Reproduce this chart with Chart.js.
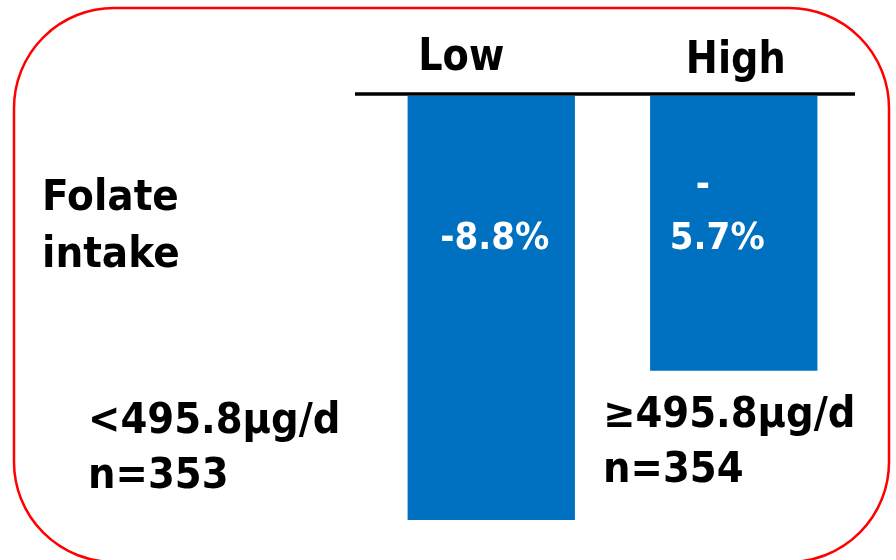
<!DOCTYPE html>
<html>
<head>
<meta charset="utf-8">
<script src="https://cdn.jsdelivr.net/npm/chart.js@4/dist/chart.umd.min.js"></script>
<style>
  html, body { margin: 0; padding: 0; background: #ffffff; }
  #wrap { width: 896px; height: 560px; position: relative; }
</style>
</head>
<body>
<div id="wrap"><canvas id="c" width="896" height="560"></canvas></div>
<script>
// Folate intake groups and the percentage change in each
const categories = ['Low', 'High'];
const values = [-8.8, -5.7];
const groupLabels = [
  ['<495.8µg/d', 'n=353'],
  ['≥495.8µg/d', 'n=354']
];
const rowLabel = ['Folate', 'intake'];

const BLUE = '#0070C0';
const RED = '#FF0000';
const FONT = '"DejaVu Sans", Verdana, sans-serif';

// bold text, set a little condensed (sx = horizontal scale)
function boldText(ctx, text, x, y, size, color, align, sx) {
  ctx.save();
  ctx.translate(x, y);
  ctx.scale(sx, 1);
  ctx.font = 'bold ' + size + 'px ' + FONT;
  ctx.fillStyle = color;
  ctx.textAlign = align;
  ctx.textBaseline = 'alphabetic';
  ctx.fillText(text, 0, 0);
  ctx.restore();
}

function pctText(v) {
  return v.toFixed(1) + '%';
}

const panelPlugin = {
  id: 'panel',
  afterDraw(chart) {
    const ctx = chart.ctx;
    const xs = chart.scales.x;
    const ys = chart.scales.y;
    const zeroY = ys.getPixelForValue(0);

    // rounded frame
    ctx.save();
    ctx.strokeStyle = RED;
    ctx.lineWidth = 2.5;
    ctx.beginPath();
    ctx.roundRect(14, 8, 875, 554, 100);
    ctx.stroke();
    ctx.restore();

    // rule under the column headers
    ctx.save();
    ctx.strokeStyle = '#000000';
    ctx.lineWidth = 3.5;
    ctx.beginPath();
    ctx.moveTo(355, zeroY - 2);
    ctx.lineTo(855, zeroY - 2);
    ctx.stroke();
    ctx.restore();

    // column headers
    const headDx = [-30, 2];
    const headY = [70, 73];
    categories.forEach((c, i) => {
      boldText(ctx, c, xs.getPixelForValue(i) + headDx[i], headY[i], 44, '#000000', 'center', 0.87);
    });

    // value labels inside the bars
    const v0 = pctText(values[0]);
    boldText(ctx, v0, xs.getPixelForValue(0) + 3.5, 249, 38, '#ffffff', 'center', 0.9);
    const v1 = pctText(values[1]);
    const sign = v1.charAt(0);
    const rest = v1.slice(1);
    const x1 = xs.getPixelForValue(1);
    boldText(ctx, sign, x1 - 31, 196, 38, '#ffffff', 'center', 0.9);
    boldText(ctx, rest, x1 - 16.5, 249, 38, '#ffffff', 'center', 0.9);

    // row label
    boldText(ctx, rowLabel[0], 42, 210, 42, '#000000', 'left', 0.93);
    boldText(ctx, rowLabel[1], 42, 267, 42, '#000000', 'left', 0.93);

    // group descriptions
    const gx = [88, 603];
    const gy = [[433, 488], [427, 482]];
    groupLabels.forEach((lines, i) => {
      lines.forEach((t, j) => {
        boldText(ctx, t, gx[i], gy[i][j], 42, '#000000', 'left', 0.92);
      });
    });
  }
};

new Chart(document.getElementById('c'), {
  type: 'bar',
  data: {
    labels: categories,
    datasets: [{
      data: values,
      backgroundColor: BLUE,
      borderWidth: 0,
      barPercentage: 1,
      categoryPercentage: 0.69
    }]
  },
  options: {
    responsive: false,
    animation: false,
    layout: { padding: { left: 370, right: 41, top: 96, bottom: 40 } },
    plugins: { legend: { display: false }, tooltip: { enabled: false } },
    scales: {
      x: { display: false },
      y: { display: false, min: Math.min(...values), max: 0 }
    }
  },
  plugins: [panelPlugin]
});
</script>
</body>
</html>
